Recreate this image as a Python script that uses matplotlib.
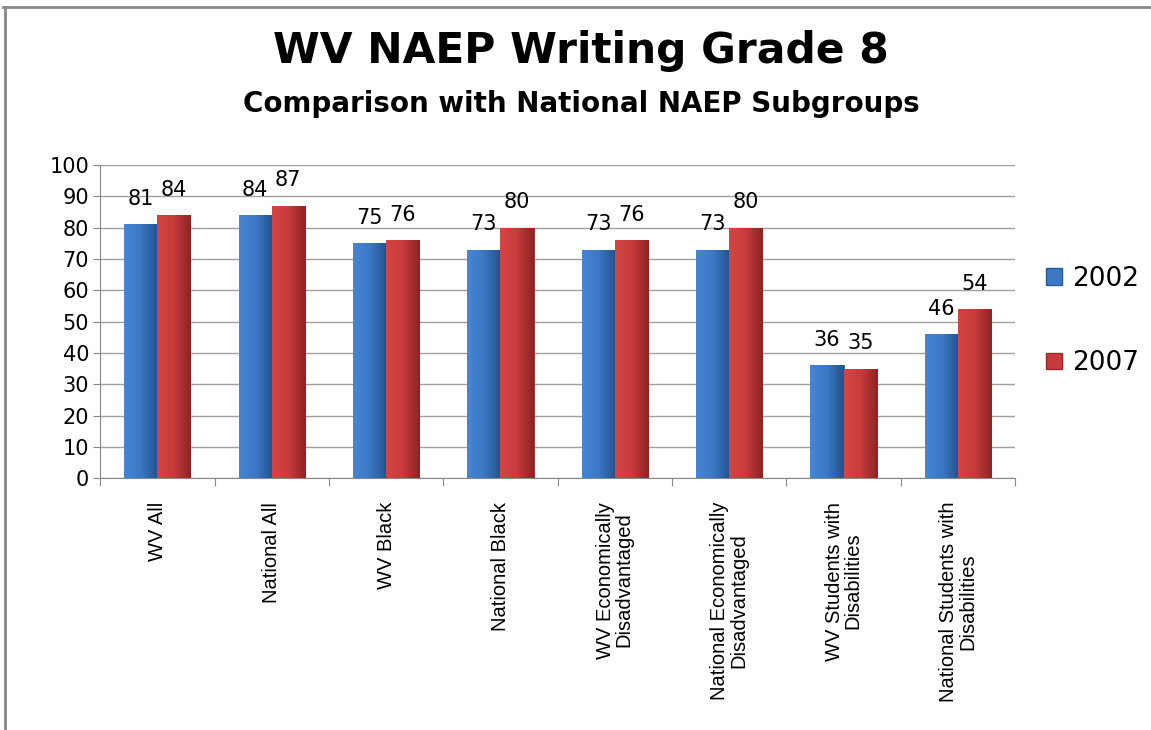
import numpy as np
import matplotlib
matplotlib.use("Agg")
from matplotlib import pyplot as plt
from matplotlib.lines import Line2D
from matplotlib.colors import to_rgb

categories = ["WV All", "National All", "WV Black", "National Black",
              "WV Economically\nDisadvantaged", "National Economically\nDisadvantaged",
              "WV Students with\nDisabilities", "National Students with\nDisabilities"]
series = ["2002", "2007"]
v2002 = [81, 84, 75, 73, 73, 73, 36, 46]
v2007 = [84, 87, 76, 80, 76, 80, 35, 54]
yticks = list(range(0, 101, 10))

face = ["#3b78c4", "#c63b3b"]
light = ["#4686d4", "#d64444"]
dark = ["#24528c", "#8c2424"]
edge = ["#2a5a96", "#962a2a"]


def gradient(c_light, c_mid, c_dark, n=64):
    t = np.linspace(0, 1, n)
    a, b, c = (np.array(to_rgb(k)) for k in (c_light, c_mid, c_dark))
    img = np.empty((1, n, 3))
    for j, tt in enumerate(t):
        if tt < 0.5:
            img[0, j] = a + (b - a) * tt / 0.5
        else:
            img[0, j] = b + (c - b) * (tt - 0.5) / 0.5
    return img


fig = plt.figure(figsize=(11.51, 7.30), dpi=100)
ax = fig.add_axes([0.087, 0.345, 0.795, 0.429])

x = np.arange(len(categories))
w = 0.29
for i, vals in enumerate([v2002, v2007]):
    pos = x + (i - 0.5) * w
    bars = ax.bar(pos, vals, w, color=face[i], edgecolor=edge[i], linewidth=0.6,
                  label=series[i], zorder=3)
    img = gradient(light[i], face[i], dark[i])
    for rect in bars:
        x0 = rect.get_x()
        im = ax.imshow(img, extent=[x0, x0 + w, 0, rect.get_height()],
                       aspect="auto", zorder=3.5, interpolation="bilinear")
        im.set_clip_path(rect)
    for p, v in zip(pos, vals):
        ax.annotate(str(v), (p, v), xytext=(0, 11), textcoords="offset points",
                    ha="center", va="bottom", fontsize=15, family="DejaVu Sans")

ax.set_xlim(-0.5, len(categories) - 0.5)
ax.set_ylim(0, 100)
ax.set_aspect("auto")
ax.set_yticks(yticks)
ax.tick_params(axis="y", labelsize=15, length=5, color="#888888", pad=3)
ax.yaxis.grid(True, color="#a0a0a0", linewidth=1, zorder=0)
ax.set_axisbelow(True)

ax.set_xticks(np.arange(len(categories) + 1) - 0.5)
ax.set_xticklabels([])
ax.tick_params(axis="x", length=6, color="#888888")
for xi, lab in zip(x, categories):
    ax.text(xi, -7.5, lab, rotation=90, ha="center", va="top", fontsize=14.5,
            family="Liberation Sans", multialignment="center", linespacing=1.0)

for s in ["top", "right"]:
    ax.spines[s].set_visible(False)
for s in ["left", "bottom"]:
    ax.spines[s].set_color("#888888")

fig.text(0.505, 0.93, "WV NAEP Writing Grade 8", ha="center", va="center",
         fontsize=30.5, fontweight="bold")
fig.text(0.505, 0.858, "Comparison with National NAEP Subgroups", ha="center",
         va="center", fontsize=20, fontweight="bold")

handles = [plt.Rectangle((0, 0), 1, 1, facecolor=face[i], edgecolor=edge[i])
           for i in range(2)]
fig.legend(handles, series, loc="center left", bbox_to_anchor=(0.888, 0.56),
           frameon=False, fontsize=19, handlelength=0.6, handleheight=0.6,
           handletextpad=0.4, labelspacing=2.2)

# chart border
fig.add_artist(Line2D([0.003, 1.0], [0.99, 0.99], color="#888888", lw=2))
fig.add_artist(Line2D([0.004, 0.004], [0.0, 0.99], color="#888888", lw=2))

fig.savefig("out.png", dpi=100)
